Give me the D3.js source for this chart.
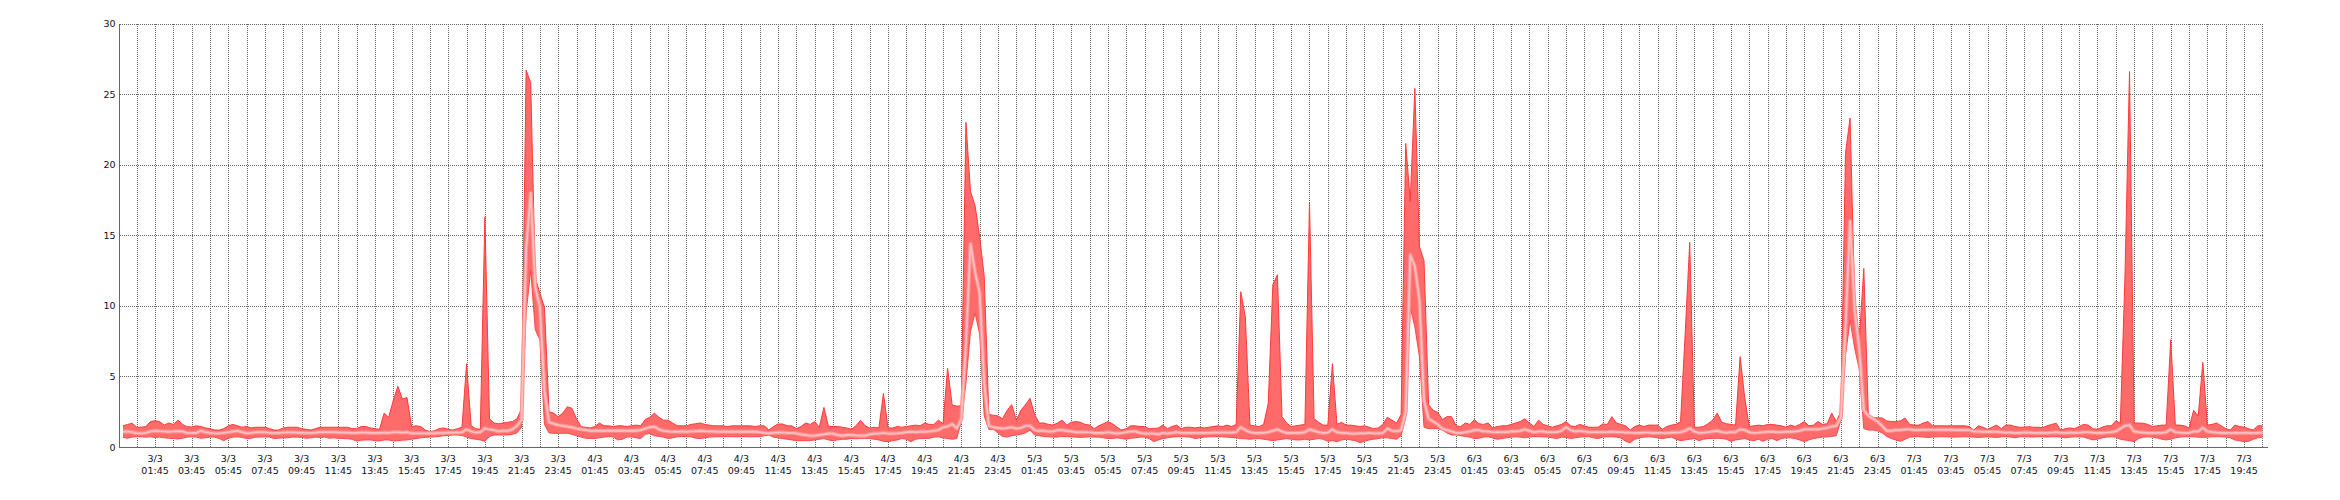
<!DOCTYPE html>
<html><head><meta charset="utf-8">
<script src="https://cdn.jsdelivr.net/npm/d3@7"></script>
<style>
html,body{margin:0;padding:0;background:#fff;}
svg{display:block;}
text{font-family:"DejaVu Sans",Verdana,sans-serif;font-size:9.5px;fill:#101018;}
</style></head>
<body>
<svg id="chart" width="2340" height="500"></svg>
<script>
// ---- data: 15-minute samples starting 3/3 00:00 ----
const stepHours = 0.25;
const maxValues = [
1.5,1.6,1.68,1.4,1.4,1.45,1.8,1.86,1.8,1.55,1.7,1.6,
1.9,1.6,1.44,1.42,1.5,1.45,1.35,1.3,1.2,1.2,1.3,1.5,
1.6,1.5,1.4,1.45,1.35,1.4,1.4,1.4,1.3,1.2,1.2,1.35,
1.4,1.4,1.4,1.3,1.25,1.2,1.3,1.4,1.4,1.4,1.4,1.4,
1.4,1.4,1.3,1.3,1.45,1.45,1.35,1.3,1.25,2.4,2.1,3.3,
4.3,3.4,3.5,1.45,1.5,1.45,1.2,1.1,1.15,1.3,1.35,1.25,
1.2,1.3,1.4,5.9,1.5,1.3,1.25,16.3,2.0,1.7,1.65,1.7,
1.75,1.8,2.0,2.7,26.7,25.8,12.0,10.9,9.9,2.5,2.4,2.15,
2.4,2.85,2.74,2.0,1.44,1.4,1.35,1.45,1.7,1.5,1.5,1.45,
1.5,1.5,1.45,1.5,1.55,1.5,1.95,2.1,2.4,2.1,1.9,1.9,
1.7,1.5,1.5,1.5,1.6,1.65,1.7,1.6,1.55,1.5,1.5,1.5,
1.45,1.5,1.5,1.5,1.5,1.5,1.45,1.5,1.5,1.2,1.45,1.63,
1.63,1.5,1.5,1.3,1.45,1.7,1.6,1.8,1.4,2.8,1.45,1.45,
1.45,1.4,1.35,1.25,1.5,1.9,1.5,1.35,1.4,1.35,3.8,1.35,
1.35,1.45,1.4,1.45,1.5,1.55,1.5,1.7,1.6,1.6,1.9,1.65,
5.57,2.97,2.9,2.9,23.0,18.1,17.1,14.9,12.1,2.3,2.25,2.2,
2.0,2.6,3.0,1.9,2.6,3.0,3.45,2.3,1.7,1.7,1.6,1.55,
1.7,1.9,1.55,1.75,1.8,1.75,1.6,1.55,1.3,1.5,1.65,1.8,
1.65,1.4,1.2,1.3,1.5,1.5,1.45,1.45,1.3,1.3,1.35,1.55,
1.3,1.45,1.55,1.3,1.4,1.4,1.35,1.4,1.35,1.4,1.45,1.5,
1.45,1.55,1.45,1.6,11.0,9.2,1.55,1.5,1.45,1.6,3.1,11.5,
12.2,2.15,1.7,1.45,1.5,1.55,1.6,17.3,2.0,1.75,1.55,1.55,
5.9,1.6,1.75,1.55,1.55,1.5,1.45,1.5,1.4,1.3,1.35,1.6,
2.1,1.9,1.7,2.3,21.5,17.4,25.4,14.2,13.2,3.0,2.6,2.45,
1.95,2.15,2.15,1.5,1.45,1.7,1.6,1.95,1.65,1.6,1.7,1.35,
1.45,1.5,1.5,1.6,1.7,1.8,2.0,1.7,1.45,1.9,1.6,1.5,
1.4,1.5,1.6,1.8,1.5,1.45,1.6,1.5,1.4,1.4,1.4,1.63,
1.6,2.15,1.7,1.6,1.5,1.2,1.45,1.55,1.45,1.55,1.55,1.55,
1.25,1.45,1.55,1.6,1.8,8.0,14.5,1.4,1.4,1.45,1.65,1.9,
2.4,1.75,1.65,1.6,1.55,6.4,3.5,1.45,1.5,1.55,1.5,1.6,
1.6,1.55,1.5,1.4,1.55,1.45,1.6,1.8,1.5,1.55,1.8,1.6,
1.65,2.4,1.8,2.5,20.8,23.3,10.5,7.5,12.65,2.1,2.07,2.07,
2.05,1.85,1.8,1.8,1.85,2.05,1.6,1.55,1.55,1.7,1.8,1.5,
1.5,1.5,1.5,1.5,1.5,1.5,1.5,1.45,1.2,1.5,1.4,1.25,
1.4,1.55,1.3,1.55,1.55,1.45,1.4,1.4,1.44,1.4,1.4,1.37,
1.5,1.6,1.68,1.2,1.3,1.35,1.3,1.45,1.6,1.55,1.3,1.25,
1.4,1.5,1.5,1.85,1.7,12.0,26.6,1.7,1.7,1.68,1.6,1.45,
1.5,1.55,1.55,7.6,1.56,1.55,1.5,1.35,2.6,2.2,6.0,1.55,
1.6,1.7,1.5,1.3,1.2,1.55,1.45,1.4,1.3,1.2,1.5,1.5
];
const minValues = [
0.68,0.62,0.7,0.73,0.72,0.7,0.72,0.68,0.7,0.65,0.62,0.6,
0.57,0.62,0.7,0.72,0.7,0.62,0.65,0.7,0.7,0.6,0.45,0.62,
0.7,0.72,0.68,0.6,0.62,0.7,0.7,0.72,0.7,0.6,0.62,0.65,
0.65,0.7,0.7,0.68,0.62,0.65,0.7,0.68,0.7,0.62,0.65,0.62,
0.6,0.58,0.55,0.42,0.48,0.5,0.5,0.45,0.42,0.5,0.5,0.42,
0.45,0.48,0.5,0.55,0.6,0.65,0.68,0.7,0.72,0.75,0.8,0.82,
0.85,0.85,0.82,0.7,0.6,0.55,0.5,0.4,0.75,0.85,0.85,0.85,
0.85,0.9,1.0,1.4,9.5,12.5,8.3,7.6,1.6,1.0,0.97,0.97,
0.97,0.97,0.9,0.8,0.7,0.62,0.6,0.6,0.65,0.7,0.73,0.73,
0.5,0.55,0.7,0.72,0.65,0.6,0.9,0.95,0.8,0.75,0.7,0.6,
0.65,0.72,0.75,0.73,0.72,0.62,0.6,0.65,0.7,0.72,0.73,0.72,
0.73,0.73,0.72,0.73,0.73,0.72,0.73,0.73,0.8,0.85,0.7,0.65,
0.6,0.55,0.5,0.45,0.45,0.45,0.45,0.5,0.55,0.6,0.5,0.45,
0.5,0.55,0.55,0.6,0.58,0.6,0.62,0.6,0.55,0.5,0.4,0.38,
0.45,0.5,0.6,0.55,0.38,0.55,0.6,0.6,0.62,0.7,0.72,0.65,
0.6,0.55,0.6,1.8,4.5,8.2,9.5,8.0,2.2,1.25,1.25,1.0,
0.75,0.7,0.8,0.85,0.9,1.0,1.2,0.85,0.8,0.75,0.72,0.7,
0.7,0.75,0.73,0.72,0.7,0.68,0.7,0.72,0.7,0.7,0.65,0.6,
0.6,0.65,0.6,0.55,0.62,0.65,0.7,0.7,0.6,0.38,0.5,0.6,
0.65,0.7,0.73,0.73,0.72,0.7,0.6,0.65,0.7,0.72,0.73,0.73,
0.72,0.7,0.68,0.65,0.6,0.58,0.55,0.58,0.6,0.55,0.5,0.45,
0.5,0.55,0.6,0.55,0.5,0.5,0.55,0.5,0.55,0.6,0.55,0.4,
0.45,0.38,0.5,0.55,0.5,0.45,0.3,0.4,0.5,0.55,0.6,0.65,
0.65,0.6,0.55,0.8,2.1,9.9,8.5,6.4,1.4,1.3,1.3,1.3,
1.2,1.0,0.85,0.85,0.8,0.75,0.7,0.6,0.62,0.7,0.72,0.65,
0.55,0.6,0.65,0.7,0.72,0.7,0.65,0.7,0.75,0.73,0.72,0.7,
0.65,0.6,0.7,0.68,0.6,0.65,0.7,0.72,0.73,0.65,0.6,0.7,
0.72,0.73,0.7,0.65,0.4,0.3,0.55,0.65,0.7,0.72,0.7,0.65,
0.6,0.65,0.7,0.55,0.45,0.5,0.55,0.6,0.45,0.55,0.6,0.6,
0.62,0.6,0.55,0.4,0.5,0.55,0.6,0.5,0.45,0.55,0.4,0.55,
0.6,0.45,0.6,0.65,0.65,0.6,0.5,0.38,0.5,0.6,0.65,0.7,
0.72,0.75,0.8,1.9,6.5,9.0,7.0,5.5,1.3,1.2,1.2,1.15,
1.0,0.75,0.6,0.5,0.4,0.55,0.7,0.72,0.73,0.7,0.68,0.7,
0.72,0.73,0.72,0.7,0.7,0.72,0.73,0.72,0.7,0.68,0.7,0.72,
0.7,0.68,0.72,0.73,0.7,0.65,0.72,0.73,0.72,0.7,0.73,0.72,
0.7,0.72,0.73,0.7,0.65,0.7,0.72,0.73,0.7,0.6,0.5,0.55,
0.65,0.7,0.72,0.7,0.55,0.5,0.45,0.38,0.6,0.7,0.72,0.7,
0.65,0.55,0.5,0.55,0.65,0.7,0.72,0.73,0.72,0.7,0.68,0.7,
0.72,0.73,0.72,0.7,0.65,0.5,0.45,0.38,0.4,0.55,0.65,0.7
];
const avgValues = [
1.08,1.1,1.05,0.97,0.97,1.0,1.1,1.15,1.12,1.1,1.08,1.1,
1.12,1.1,1.0,1.0,1.0,1.15,1.05,1.0,0.97,0.97,1.0,1.05,
1.1,1.15,1.05,0.97,1.0,1.05,1.05,1.05,1.0,1.0,1.0,1.02,
1.03,1.03,1.02,1.0,1.0,1.0,1.02,1.05,1.05,1.05,1.05,1.03,
1.02,1.02,1.0,1.0,1.02,1.02,1.0,1.0,1.0,1.02,1.0,1.05,
1.05,1.02,1.05,0.97,0.97,0.97,0.97,0.97,0.97,1.0,1.0,1.02,
1.02,1.02,1.05,1.25,1.1,1.02,1.05,1.32,1.25,1.2,1.1,1.15,
1.15,1.25,1.5,1.9,14.0,18.0,11.3,9.9,4.0,1.75,1.65,1.55,
1.5,1.45,1.4,1.3,1.25,1.2,1.15,1.15,1.15,1.15,1.15,1.15,
1.15,1.15,1.15,1.15,1.15,1.2,1.3,1.4,1.44,1.25,1.15,1.1,
1.08,1.08,1.1,1.08,1.1,1.12,1.15,1.12,1.1,1.1,1.08,1.08,
1.08,1.08,1.08,1.08,1.08,1.08,1.08,1.05,1.0,0.97,1.0,1.02,
1.02,1.0,1.0,0.97,0.9,0.85,0.8,0.8,0.85,0.9,0.95,0.95,
0.85,0.8,0.85,0.85,0.82,0.8,0.8,0.9,0.95,0.95,1.0,0.95,
0.95,0.97,1.0,1.05,1.08,1.05,1.08,1.08,1.1,1.15,1.2,1.4,
1.45,1.63,1.32,2.0,7.3,14.4,12.4,10.9,4.5,1.5,1.4,1.35,
1.3,1.35,1.4,1.3,1.35,1.5,1.5,1.2,1.15,1.15,1.1,1.1,
1.2,1.2,1.15,1.1,1.05,1.05,1.05,1.05,1.0,1.0,1.0,1.05,
1.0,0.95,1.0,1.05,1.1,1.1,1.0,0.95,0.95,0.95,0.9,1.0,
0.95,1.0,1.05,1.0,1.0,1.0,1.0,1.0,1.0,1.0,1.02,1.02,
1.02,1.02,1.02,1.05,1.4,1.2,1.05,1.0,1.0,1.0,1.05,1.15,
1.25,1.1,1.0,1.0,1.0,1.0,1.05,1.25,1.15,1.05,1.0,1.02,
1.25,1.05,1.0,1.0,0.95,0.95,0.97,0.97,1.0,0.97,0.97,1.0,
1.3,1.15,1.1,1.2,2.5,13.6,12.8,10.4,3.3,2.0,1.8,1.6,
1.3,1.2,1.1,1.0,1.0,1.05,1.1,1.2,1.2,1.1,1.1,1.05,
1.05,1.05,1.05,1.1,1.1,1.15,1.25,1.15,1.05,1.1,1.1,1.05,
1.05,1.05,1.15,1.4,1.2,1.1,1.15,1.1,1.05,1.05,1.05,1.05,
1.05,1.08,1.05,1.05,1.02,1.02,1.0,1.0,1.02,1.02,1.0,1.0,
1.0,1.0,1.02,1.02,1.05,1.15,1.32,1.1,1.0,1.02,1.05,1.1,
1.15,1.05,1.02,1.05,1.05,1.25,1.2,1.05,1.0,1.02,1.05,1.08,
1.08,1.05,1.05,1.08,1.08,1.1,1.15,1.25,1.25,1.25,1.25,1.3,
1.35,1.45,1.5,2.1,8.5,16.0,9.7,7.0,2.6,2.2,2.0,1.8,
1.5,1.15,1.15,1.2,1.2,1.25,1.25,1.2,1.2,1.22,1.22,1.22,
1.22,1.22,1.22,1.22,1.2,1.2,1.2,1.2,1.1,1.1,1.08,1.08,
1.08,1.08,1.05,1.02,1.02,1.0,1.0,1.02,1.02,1.0,1.0,1.0,
1.0,1.02,1.05,1.0,1.0,1.02,1.0,1.02,1.05,1.05,1.02,1.0,
1.0,1.02,1.05,1.1,1.3,1.5,1.55,1.1,1.05,1.02,1.0,1.0,
1.0,1.0,1.05,1.25,1.05,1.02,1.0,1.0,1.1,1.1,1.37,1.1,
1.05,1.02,1.0,1.0,1.0,1.0,1.0,1.0,1.0,1.0,1.0,1.02
];
const yTicks = [0,5,10,15,20,25,30];
const dayLabels = ["3/3","4/3","5/3","6/3","7/3"];
const timeLabels = ["01:45","03:45","05:45","07:45","09:45","11:45","13:45","15:45","17:45","19:45","21:45","23:45"];
const lastDayLabelCount = 10;

(function () {
  const svg = d3.select("#chart");
  const pL = 119.5, pR = 2267.5, pT = 23.5, pB = 447;
  const x = d3.scaleLinear().domain([-0.19, 117.03]).range([pL, pR]);
  const y = d3.scaleLinear().domain([0, 30]).range([pB, pT]);
  const gridRight = x(116.83);

  const data = maxValues.map((v, i) => ({t: i * stepHours, max: v, min: minValues[i], avg: avgValues[i]}));

  // grid
  const grid = svg.append("g").attr("shape-rendering", "crispEdges");
  const hourLines = d3.range(0.75, 117, 1);
  grid.selectAll("line.v").data(hourLines).join("line")
    .attr("x1", d => Math.round(x(d)) + 0.5).attr("x2", d => Math.round(x(d)) + 0.5)
    .attr("y1", pT).attr("y2", pB)
    .attr("stroke", "#666").attr("stroke-width", 1).attr("stroke-dasharray", "1,1");
  grid.selectAll("line.h").data(yTicks.filter(d => d > 0)).join("line")
    .attr("x1", pL).attr("x2", gridRight)
    .attr("y1", d => Math.round(y(d)) + 0.5).attr("y2", d => Math.round(y(d)) + 0.5)
    .attr("stroke", "#666").attr("stroke-width", 1).attr("stroke-dasharray", "1,1");

  // band
  const area = d3.area().x(d => x(d.t)).y0(d => y(d.min)).y1(d => y(d.max));
  svg.append("path").datum(data).attr("d", area).attr("fill", "#ff6a6a");
  const lineMax = d3.line().x(d => x(d.t)).y(d => y(d.max));
  const lineMin = d3.line().x(d => x(d.t)).y(d => y(d.min));
  svg.append("path").datum(data).attr("d", lineMax).attr("fill", "none").attr("stroke", "#ff3a3a").attr("stroke-width", 1);
  svg.append("path").datum(data).attr("d", lineMin).attr("fill", "none").attr("stroke", "#ff4a4a").attr("stroke-width", 1);
  const lineAvg = d3.line().x(d => x(d.t)).y(d => y(d.avg));
  svg.append("path").datum(data).attr("d", lineAvg).attr("fill", "none").attr("stroke", "#ff9090").attr("stroke-width", 4).attr("stroke-linejoin", "round");
  svg.append("path").datum(data).attr("d", lineAvg).attr("fill", "none").attr("stroke", "#ffbfbf").attr("stroke-width", 1.8).attr("stroke-linejoin", "round");

  // axis lines
  svg.append("line").attr("x1", pL).attr("x2", pL).attr("y1", pT).attr("y2", pB + 0.5)
    .attr("stroke", "#666").attr("stroke-width", 1).attr("shape-rendering", "crispEdges");
  svg.append("line").attr("x1", pL).attr("x2", pR).attr("y1", pB + 0.5).attr("y2", pB + 0.5)
    .attr("stroke", "#666").attr("stroke-width", 1).attr("shape-rendering", "crispEdges");

  // y labels
  svg.append("g").selectAll("text").data(yTicks).join("text")
    .attr("x", 115.5).attr("y", d => y(d) + 3.5).attr("text-anchor", "end").text(d => d);

  // x labels
  const xTicks = [];
  dayLabels.forEach((day, di) => {
    const n = di === dayLabels.length - 1 ? lastDayLabelCount : timeLabels.length;
    for (let k = 0; k < n; k++) {
      xTicks.push({t: di * 24 + 1.75 + 2 * k, day: day, time: timeLabels[k]});
    }
  });
  const xl = svg.append("g").selectAll("text").data(xTicks).join("text")
    .attr("text-anchor", "middle");
  xl.append("tspan").attr("x", d => x(d.t)).attr("y", 461.8).text(d => d.day);
  xl.append("tspan").attr("x", d => x(d.t)).attr("y", 474.3).text(d => d.time);
})();
</script>
</body></html>
